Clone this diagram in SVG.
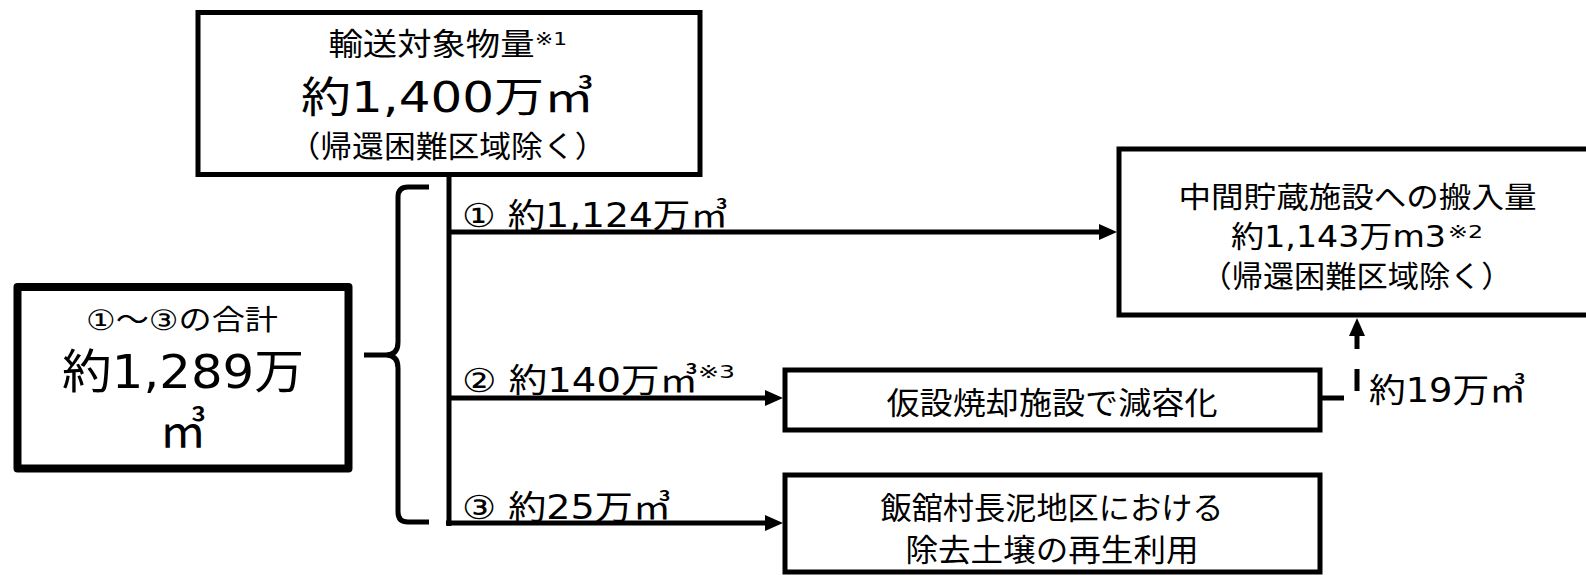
<svg xmlns="http://www.w3.org/2000/svg" width="1586" height="575" viewBox="0 0 1586 575">
<style>
.bg{fill:#fff}
.box{fill:#fff;stroke:#000;stroke-width:5}
.boxb{fill:#fff;stroke:#000;stroke-width:8;stroke-linejoin:round}
.ln{fill:none;stroke:#000;stroke-width:5}
.t{font-family:"DejaVu Sans","Noto Sans CJK JP",sans-serif;fill:#000}
.m{text-anchor:middle}
</style>
<defs>
<marker id="ah" markerUnits="userSpaceOnUse" markerWidth="18" markerHeight="16" refX="0" refY="8" orient="auto">
<path d="M0,0 L18,8 L0,16 z" fill="#000"/>
</marker>
</defs>
<rect class="bg" x="0" y="0" width="1586" height="575"/>

<g id="connectors">
<path class="ln" d="M429,187 H408 Q398,187 398,197 V342 Q398,355 386,355 H364 M386,355 Q398,355 398,368 V512 Q398,522 408,522 H429" stroke-width="7"/>
<path class="ln" d="M449,174 V526" stroke-width="6"/>
<path class="ln" d="M449,232 H1099" marker-end="url(#ah)"/>
<path class="ln" d="M449,398 H765" marker-end="url(#ah)"/>
<path class="ln" d="M446,523 H765" marker-end="url(#ah)"/>
<path class="ln" d="M1322,398 H1357 V336" stroke-dasharray="22 20" marker-end="url(#ah)"/>
</g>

<g id="node-total-transport">
<rect class="box" x="198" y="12.5" width="502" height="162"/>
<text class="t m" x="431.5" y="55" font-size="31" textLength="206" lengthAdjust="spacingAndGlyphs">輸送対象物量</text>
<text class="t" x="535" y="45" font-size="17" textLength="32" lengthAdjust="spacingAndGlyphs">※1</text>
<text class="t m" x="447.5" y="112" font-size="42" textLength="293" lengthAdjust="spacingAndGlyphs">約1,400万㎥</text>
<text class="t m" x="447.5" y="157" font-size="30" textLength="318" lengthAdjust="spacingAndGlyphs">（帰還困難区域除く）</text>
</g>

<g id="node-sum">
<rect class="boxb" x="17.5" y="287" width="331" height="181.5"/>
<text class="t m" x="182" y="330" font-size="28" textLength="192" lengthAdjust="spacingAndGlyphs">①～③の合計</text>
<text class="t m" x="183" y="388" font-size="47" textLength="242" lengthAdjust="spacingAndGlyphs">約1,289万</text>
<text class="t m" x="183" y="447" font-size="47">㎥</text>
</g>

<g id="label-1">
<text class="t" x="462" y="227" font-size="33" textLength="266" lengthAdjust="spacingAndGlyphs">① 約1,124万㎥</text>
</g>
<g id="label-2">
<text class="t" x="462" y="392" font-size="33" textLength="236" lengthAdjust="spacingAndGlyphs">② 約140万㎥</text>
<text class="t" x="698" y="378" font-size="17" textLength="37" lengthAdjust="spacingAndGlyphs">※3</text>
</g>
<g id="label-3">
<text class="t" x="462" y="519" font-size="33" textLength="209" lengthAdjust="spacingAndGlyphs">③ 約25万㎥</text>
</g>

<g id="node-storage">
<rect class="box" x="1119" y="149" width="476" height="166"/>
<text class="t m" x="1357.5" y="208" font-size="29" textLength="358" lengthAdjust="spacingAndGlyphs">中間貯蔵施設への搬入量</text>
<text class="t" x="1231" y="247" font-size="30" textLength="215" lengthAdjust="spacingAndGlyphs">約1,143万m3</text>
<text class="t" x="1448" y="238" font-size="17" textLength="35" lengthAdjust="spacingAndGlyphs">※2</text>
<text class="t m" x="1356.5" y="287" font-size="30" textLength="312" lengthAdjust="spacingAndGlyphs">（帰還困難区域除く）</text>
</g>

<g id="node-incineration">
<rect class="box" x="785" y="370" width="535" height="60"/>
<text class="t m" x="1052" y="414" font-size="31" textLength="331" lengthAdjust="spacingAndGlyphs">仮設焼却施設で減容化</text>
</g>

<g id="node-recycle">
<rect class="box" x="785" y="475" width="535" height="97"/>
<text class="t m" x="1052" y="519" font-size="31" textLength="343" lengthAdjust="spacingAndGlyphs">飯舘村長泥地区における</text>
<text class="t m" x="1052" y="561" font-size="31" textLength="293" lengthAdjust="spacingAndGlyphs">除去土壌の再生利用</text>
</g>

<g id="label-19">
<text class="t" x="1369" y="402" font-size="33" textLength="157" lengthAdjust="spacingAndGlyphs">約19万㎥</text>
</g>
</svg>
